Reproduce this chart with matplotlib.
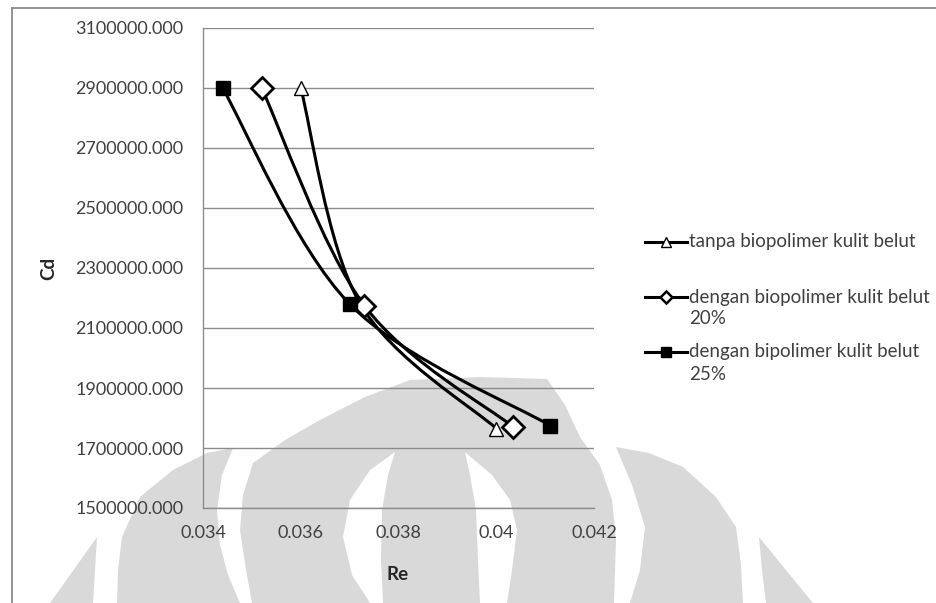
import numpy as np
import matplotlib
matplotlib.use("Agg")
import matplotlib.pyplot as plt
from matplotlib.path import Path
from matplotlib.patches import PathPatch, Polygon
from matplotlib.lines import Line2D
from matplotlib.transforms import Affine2D

# ---- data -------------------------------------------------------------
re_tanpa = [0.0360, 0.0372, 0.0400]
cd_tanpa = [2900000, 2185000, 1765000]

re_20 = [0.0352, 0.0373, 0.04035]
cd_20 = [2900000, 2175000, 1770000]

re_25 = [0.0344, 0.0370, 0.0411]
cd_25 = [2900000, 2180000, 1775000]

series_labels = [
    "tanpa biopolimer kulit belut",
    "dengan biopolimer kulit belut\n20%",
    "dengan bipolimer kulit belut\n25%",
]

x_ticks = [0.034, 0.036, 0.038, 0.040, 0.042]
x_tick_labels = ["0.034", "0.036", "0.038", "0.04", "0.042"]
y_ticks = list(range(1500000, 3100001, 200000))

# ---- figure -----------------------------------------------------------
W, H = 936, 603
plt.rcParams["font.family"] = ["Lato", "DejaVu Sans"]
fig = plt.figure(figsize=(W / 100, H / 100), dpi=100)
fig.patch.set_facecolor("white")

# pixel transform (origin at top-left) for decoration and legend
px = Affine2D().scale(1 / W, -1 / H).translate(0, 1) + fig.transFigure

# faint watermark emblem behind the chart
wm_gray = "#d9d9d9"
gray_shapes = [
    [(50, 603), (70, 575), (97, 537), (95, 570), (93, 603)],
    [(117, 603), (118, 570), (122, 537), (140, 497), (173, 470), (207, 453),
     (233, 448), (222, 475), (217, 510), (220, 545), (228, 575), (240, 603)],
    [(252, 603), (246, 570), (240, 530), (243, 495), (253, 463), (285, 440),
     (320, 420), (365, 397), (410, 380), (480, 377), (547, 379), (565, 405),
     (580, 437), (600, 465), (612, 500), (616, 540), (614, 603)],
    [(630, 603), (640, 570), (645, 527), (632, 485), (616, 447), (649, 453),
     (683, 467), (716, 497), (736, 527), (741, 565), (743, 603)],
    [(759, 537), (790, 575), (813, 603), (766, 603), (762, 570)],
]
white_shapes = [
    [(395, 452), (370, 470), (350, 500), (343, 537), (352, 575), (370, 603),
     (383, 603), (381, 560), (382, 510), (388, 475)],
    [(465, 452), (492, 475), (510, 500), (517, 530), (512, 570), (507, 603),
     (480, 603), (478, 560), (476, 510), (470, 475)],
]
for shp in gray_shapes:
    fig.add_artist(Polygon(shp, closed=True, transform=px, facecolor=wm_gray,
                           edgecolor="none", zorder=-10))
for shp in white_shapes:
    fig.add_artist(Polygon(shp, closed=True, transform=px, facecolor="white",
                           edgecolor="none", zorder=-9))

# outer chart frame (top and left edges)
fig.add_artist(Line2D([12, 936], [8, 8], transform=px, color="#8a8a8a", lw=1.3))
fig.add_artist(Line2D([12, 12], [8, 603], transform=px, color="#8a8a8a", lw=1.3))

ax = fig.add_axes([203 / W, 1 - 508 / H, (594 - 203) / W, (508 - 28) / H])
ax.set_facecolor("none")


def smooth_path(xs, ys):
    """Bezier path through the points, Excel-style smoothed line."""
    pts = np.column_stack([xs, ys]).astype(float)
    n = len(pts)
    verts = [pts[0]]
    codes = [Path.MOVETO]
    for i in range(n - 1):
        p_prev = pts[i - 1] if i > 0 else pts[i]
        p_next2 = pts[i + 2] if i + 2 < n else pts[i + 1]
        c1 = pts[i] + (pts[i + 1] - p_prev) / 6.0
        c2 = pts[i + 1] - (p_next2 - pts[i]) / 6.0
        verts += [c1, c2, pts[i + 1]]
        codes += [Path.CURVE4] * 3
    return Path(verts, codes)


styles = [
    dict(marker="^", ms=10, mfc="white", mec="black", mew=1.0),
    dict(marker="D", ms=11, mfc="white", mec="black", mew=2.0),
    dict(marker="s", ms=10, mfc="black", mec="black", mew=1.0),
]
legend_styles = [
    dict(marker="^", ms=7, mfc="white", mec="black", mew=1.0),
    dict(marker="D", ms=6, mfc="white", mec="black", mew=1.8),
    dict(marker="s", ms=7.5, mfc="black", mec="black", mew=1.0),
]
series = [(re_tanpa, cd_tanpa), (re_20, cd_20), (re_25, cd_25)]

for k, ((xs, ys), st) in enumerate(zip(series, styles)):
    ax.add_patch(PathPatch(smooth_path(xs, ys), facecolor="none",
                           edgecolor="black", lw=2.2, zorder=3 + 2 * k))
    ax.plot(xs, ys, linestyle="none", zorder=4 + 2 * k, **st)

ax.set_xlim(0.034, 0.042)
ax.set_ylim(1500000, 3100000)
ax.set_xticks(x_ticks)
ax.set_xticklabels(x_tick_labels)
ax.set_yticks(y_ticks)
ax.set_yticklabels([f"{v:.3f}" for v in y_ticks])

ax.grid(axis="y", color="#8c8c8c", lw=1.0)
ax.set_axisbelow(True)
for side in ("top", "right"):
    ax.spines[side].set_visible(False)
for side in ("left", "bottom"):
    ax.spines[side].set_color("#8c8c8c")
    ax.spines[side].set_linewidth(1.0)

ax.tick_params(axis="both", length=0, labelsize=13, labelcolor="#404040")
ax.tick_params(axis="y", pad=14)
ax.tick_params(axis="x", pad=12)

ax.set_xlabel("Re", fontsize=13.5, fontweight="bold", color="#262626", va="center")
ax.set_ylabel("Cd", fontsize=13.5, fontweight="bold", color="#262626", va="center")
ax.xaxis.set_label_coords(0.497, -(575 - 508) / 480)
ax.yaxis.set_label_coords(-(203 - 49) / 391, 0.5)

# legend drawn to the right of the plot area
legend_y = [242, 297, 352]
line_gap = 22
for lab, st, y in zip(series_labels, legend_styles, legend_y):
    fig.add_artist(Line2D([645, 687], [y, y], transform=px, color="black", lw=2.2))
    fig.add_artist(Line2D([666], [y], transform=px, linestyle="none", **st))
    for j, part in enumerate(lab.split("\n")):
        fig.text(689 / W, 1 - (y + j * line_gap) / H, part, fontsize=13.5,
                 color="#404040", ha="left", va="center")

fig.savefig("out.png", dpi=100)
